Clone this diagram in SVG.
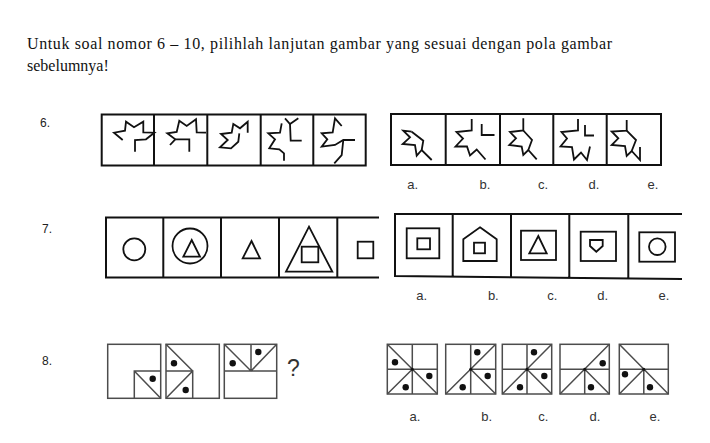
<svg xmlns="http://www.w3.org/2000/svg" width="710" height="443" viewBox="0 0 710 443">
<style>
.k{fill:none;stroke:#111;stroke-width:2;stroke-linejoin:miter;stroke-linecap:butt}
.s{fill:none;stroke:#111;stroke-width:1.8;stroke-linejoin:miter}
.g{fill:none;stroke:#4c4c4c;stroke-width:1.5}
.dot{fill:#111}
.hd{font-family:"Liberation Serif","Times New Roman",serif;font-size:16px;fill:#111}
.lb{font-family:"Liberation Sans",Arial,sans-serif;font-size:13px;fill:#333;text-anchor:middle}
.num{font-family:"Liberation Sans",Arial,sans-serif;font-size:12px;fill:#222}
.q{font-family:"Liberation Sans",Arial,sans-serif;font-size:23px;fill:#333}
</style>
<rect width="710" height="443" fill="#fff"/>
<g id="header">
<text class="hd" x="27" y="49" textLength="585" lengthAdjust="spacing">Untuk soal nomor 6 – 10, pilihlah lanjutan gambar yang sesuai dengan pola gambar</text>
<text class="hd" x="27" y="71">sebelumnya!</text>
</g>
<g id="numbers">
<text class="num" x="40" y="127">6.</text>
<text class="num" x="42" y="233">7.</text>
<text class="num" x="42" y="365">8.</text>
</g>
<g id="q6-sequence">
<rect class="k" x="101.7" y="114.5" width="264" height="51"/>
<path class="k" d="M154 114.5V165.5M207.3 114.5V165.5M260.7 114.5V165.5M313.3 114.5V165.5"/>
<polyline class="s" points="122.7,140 114,132.7 125,130.7 126,121.7 134,127.3 143.3,121.7 143.3,132.3 154.3,132.7 146,139.3 135,140 135,151.7"/>
<polyline class="s" points="206,132.7 196.7,132.3 196,119.3 186.7,126 179.3,120.7 176.7,132 167.3,133.3 175.3,139.3 170,145"/>
<polyline class="s" points="175.3,139.3 189.3,139.3 189.3,151.7"/>
<polyline class="s" points="247.7,132.7 247.7,121.7 240,128.3 233.3,124 231.7,132.7 221,134 227.7,140 220,147.3 231,148.3 238.3,141.7 239.3,133.3"/>
<polyline class="s" points="285,118.3 290,124 298.3,118.3"/>
<polyline class="s" points="290,124 290.7,140.7 301.7,140.7"/>
<polyline class="s" points="281.7,123.3 280,132.7 268.3,133.3 275,139.3 269.3,148.3 279.3,149.3 284,153.3 284,160.7"/>
<polyline class="s" points="341.7,126 335,118.3 332.7,132.3 321.7,133.3 327.3,139.3 321.7,146.7 335,145 343.3,140 355,140"/>
<polyline class="s" points="343.3,140 341.7,155 334.3,163.3"/>
</g>
<g id="q6-options">
<rect class="k" x="391" y="114" width="270" height="51"/>
<path class="k" d="M445.7 114V165M500 114V165M553.3 114V165M606.7 114V165"/>
<polyline class="s" points="411.7,131.7 403.3,130.7 410,137.3 402.7,144 415,145 416.7,155.7 421.7,150 431.7,160"/>
<polyline class="s" points="411.7,131.7 423.3,140.7 421.7,150"/>
<polyline class="s" points="471.7,119 471.7,130.5 456.5,132 463,138.5 455.5,146.5 467,146.5 470,155.5 476.7,149.5 485.5,159.5"/>
<polyline class="s" points="481.7,124 481.7,135 494.5,135"/>
<polyline class="s" points="523.3,118.3 523.3,130.5 510,132 516,138.3 509.3,145 521.7,146.5 523.3,155 528.3,150 536.7,159.3"/>
<polyline class="s" points="523.3,130.5 532,140 528.3,150"/>
<polyline class="s" points="578,119 578,130.5 561.5,132 567,138.5 560.5,146.5 572,147 574,159.5 581,152.5 587,160 590,146.5"/>
<polyline class="s" points="585,125 585,135.5 594,135.5"/>
<polyline class="s" points="626.7,120 626.7,130.7 611.7,131.5 618.3,138.3 611.7,145 625,146 626.7,156 631.7,151 640,160 640,147"/>
<polyline class="s" points="626.7,130.7 636,140 631.7,151"/>
<text class="lb" x="412.7" y="189">a.</text>
<text class="lb" x="485" y="189">b.</text>
<text class="lb" x="543" y="189">c.</text>
<text class="lb" x="594" y="189">d.</text>
<text class="lb" x="653" y="189">e.</text>
</g>
<g id="q7-sequence">
<path class="k" d="M379 217.5H106V277.5H379M163.3 217.5V277.5M221 217.5V277.5M279 217.5V277.5M337.3 217.5V277.5"/>
<circle class="s" cx="134.3" cy="249.3" r="11"/>
<circle class="s" cx="190" cy="246" r="17.5"/>
<polygon class="s" points="191.7,240 200,256.7 183.3,256.7"/>
<polygon class="s" points="251.5,241 260,258.3 242.7,258.3"/>
<polygon class="s" points="309,226.7 332.3,271.7 286,271.7"/>
<rect class="s" x="301.7" y="246.7" width="16.6" height="15.6"/>
<rect class="s" x="357.7" y="241.7" width="15.6" height="16.6"/>
</g>
<g id="q7-options">
<path class="k" d="M682 214H395V276L682 279M452.7 214V276.5M511 214V277M569.3 214V277.5M628.3 214V278"/>
<rect class="s" x="406.7" y="228.3" width="32.6" height="30"/>
<rect class="s" x="417.3" y="238.3" width="12.7" height="11"/>
<polygon class="s" points="480,227.3 496.7,239.3 496.7,261 463.3,261 463.3,239.3"/>
<rect class="s" x="474" y="242.7" width="11" height="10.6"/>
<rect class="s" x="521" y="230.7" width="35" height="29.3"/>
<polygon class="s" points="538.3,236 546.7,253.3 529.3,253.3"/>
<rect class="s" x="580.7" y="231.7" width="35.3" height="29.3"/>
<polygon class="s" points="590,240 602.7,240 602.7,246 596.3,251.7 590,246"/>
<rect class="s" x="639.3" y="232.3" width="35.7" height="29.4"/>
<circle class="s" cx="657.3" cy="246.7" r="8.3"/>
<text class="lb" x="421.7" y="300">a.</text>
<text class="lb" x="493.3" y="300">b.</text>
<text class="lb" x="552.3" y="300">c.</text>
<text class="lb" x="602.7" y="300">d.</text>
<text class="lb" x="664" y="300">e.</text>
</g>
<g id="q8-sequence">
<rect class="g" x="107.7" y="344.3" width="53" height="54"/>
<path class="g" d="M134.3 398.3V371H160.7M134.3 371L160.7 398.3"/>
<circle class="dot" cx="152.7" cy="378.7" r="3.2"/>
<rect class="g" x="166" y="344.3" width="53.3" height="54"/>
<path class="g" d="M166 344.3L192.7 371L166 398.3M166 371H192.7V398.3"/>
<circle class="dot" cx="174" cy="363.3" r="3.2"/>
<circle class="dot" cx="185.7" cy="390" r="3.2"/>
<rect class="g" x="224.3" y="344.3" width="52.4" height="54"/>
<path class="g" d="M224.3 371H276.7M224.3 344.3L251 371L276.7 344.3M251 344.3V371"/>
<circle class="dot" cx="232.7" cy="363.3" r="3.2"/>
<circle class="dot" cx="258.3" cy="352" r="3.2"/>
<text class="q" x="287" y="376">?</text>
</g>
<g id="q8-options">
<rect class="g" x="387.3" y="344.3" width="50" height="49.7"/>
<path class="g" d="M412.3 344.3V394M387.3 369.2H437.3M387.3 344.3L437.3 394M387.3 394L412.3 369.2"/>
<circle class="dot" cx="412.3" cy="369.2" r="1.5"/>
<circle class="dot" cx="395" cy="362.3" r="3.2"/>
<circle class="dot" cx="429.3" cy="376" r="3.2"/>
<circle class="dot" cx="405.7" cy="387.3" r="3.2"/>
<rect class="g" x="445.7" y="344.3" width="50" height="49.7"/>
<path class="g" d="M470.7 344.3V394M470.7 369.2H495.7M445.7 394L495.7 344.3M470.7 369.2L495.7 394"/>
<circle class="dot" cx="470.7" cy="369.2" r="1.5"/>
<circle class="dot" cx="477.3" cy="352.3" r="3.2"/>
<circle class="dot" cx="487.7" cy="376" r="3.2"/>
<circle class="dot" cx="462.7" cy="387.3" r="3.2"/>
<rect class="g" x="502.3" y="344.3" width="49.4" height="49.7"/>
<path class="g" d="M527 344.3V394M502.3 369.2H551.7M502.3 394L551.7 344.3M527 369.2L551.7 394"/>
<circle class="dot" cx="527" cy="369.2" r="1.5"/>
<circle class="dot" cx="534" cy="352.3" r="3.2"/>
<circle class="dot" cx="544.3" cy="376" r="3.2"/>
<circle class="dot" cx="520" cy="387.3" r="3.2"/>
<rect class="g" x="560" y="344.3" width="49.3" height="49.7"/>
<path class="g" d="M560 369.2H609.3M584.7 369.2V394M560 394L609.3 344.3M584.7 369.2L609.3 394"/>
<circle class="dot" cx="584.7" cy="369.2" r="1.5"/>
<circle class="dot" cx="602.7" cy="363.3" r="3.2"/>
<circle class="dot" cx="591" cy="387.3" r="3.2"/>
<rect class="g" x="619.3" y="344.3" width="49" height="49.7"/>
<path class="g" d="M619.3 344.3L668.3 394M619.3 369.2H668.3M643.8 369.2V394M619.3 394L643.8 369.2"/>
<circle class="dot" cx="643.8" cy="369.2" r="1.5"/>
<circle class="dot" cx="625" cy="374.3" r="3.2"/>
<circle class="dot" cx="650" cy="387.3" r="3.2"/>
<text class="lb" x="415" y="421">a.</text>
<text class="lb" x="486.7" y="421">b.</text>
<text class="lb" x="543.3" y="421">c.</text>
<text class="lb" x="595" y="421">d.</text>
<text class="lb" x="655" y="421">e.</text>
</g>
</svg>
